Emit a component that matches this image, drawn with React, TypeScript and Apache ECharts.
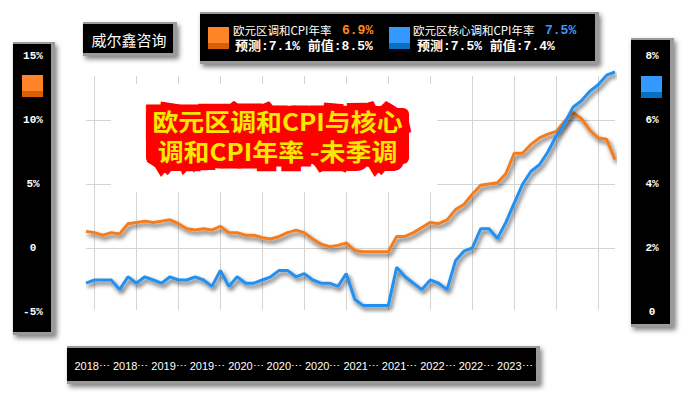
import React, { useEffect, useRef } from 'react';
import * as echarts from 'echarts';

// ---- data ----
const months = [
  '2017-12',
  '2018-01', '2018-02', '2018-03', '2018-04', '2018-05', '2018-06', '2018-07', '2018-08', '2018-09', '2018-10', '2018-11', '2018-12',
  '2019-01', '2019-02', '2019-03', '2019-04', '2019-05', '2019-06', '2019-07', '2019-08', '2019-09', '2019-10', '2019-11', '2019-12',
  '2020-01', '2020-02', '2020-03', '2020-04', '2020-05', '2020-06', '2020-07', '2020-08', '2020-09', '2020-10', '2020-11', '2020-12',
  '2021-01', '2021-02', '2021-03', '2021-04', '2021-05', '2021-06', '2021-07', '2021-08', '2021-09', '2021-10', '2021-11', '2021-12',
  '2022-01', '2022-02', '2022-03', '2022-04', '2022-05', '2022-06', '2022-07', '2022-08', '2022-09', '2022-10', '2022-11', '2022-12',
  '2023-01', '2023-02', '2023-03',
];

// 欧元区调和CPI年率 (left axis, %)
const headline = [
  1.3,
  1.2, 1.0, 1.2, 1.1, 1.9, 2.0, 2.1, 2.0, 2.1, 2.2, 1.9, 1.5,
  1.4, 1.5, 1.4, 1.7, 1.2, 1.2, 1.0, 1.0, 0.8, 0.7, 0.9, 1.2,
  1.4, 1.2, 0.7, 0.3, 0.1, 0.2, 0.4, -0.2, -0.3, -0.3, -0.3, -0.3,
  0.9, 0.9, 1.2, 1.6, 2.0, 1.9, 2.2, 3.0, 3.4, 4.2, 4.9, 5.0,
  5.1, 5.8, 7.4, 7.4, 8.1, 8.6, 8.9, 9.1, 9.9, 10.6, 10.1, 9.2,
  8.6, 8.5, 6.9,
];

// 欧元区核心调和CPI年率 (right axis, %)
const core = [
  0.9,
  1.0, 1.0, 1.0, 0.7, 1.1, 0.9, 1.1, 1.0, 0.9, 1.1, 1.0, 1.0,
  1.1, 1.0, 0.8, 1.3, 0.8, 1.1, 0.9, 0.9, 1.0, 1.1, 1.3, 1.3,
  1.1, 1.2, 1.0, 0.9, 0.9, 0.8, 1.2, 0.4, 0.2, 0.2, 0.2, 0.2,
  1.4, 1.1, 0.9, 0.7, 1.0, 0.9, 0.7, 1.6, 1.9, 2.0, 2.6, 2.6,
  2.3, 2.8, 3.4, 4.0, 4.4, 4.6, 5.0, 5.5, 5.9, 6.4, 6.6, 6.9,
  7.1, 7.4, 7.5,
];

// bottom label strip ticks
const axisLabels = [
  '2018-06', '2018-11', '2019-04', '2019-09', '2020-02', '2020-07',
  '2020-12', '2021-05', '2021-10', '2022-03', '2022-08', '2023-01',
];

const seriesNames = ['欧元区调和CPI年率', '欧元区核心调和CPI年率'];
const latestValues = ['6.9%', '7.5%'];
const forecastValues = ['7.1%', '7.5%'];
const previousValues = ['8.5%', '7.4%'];

const leftAxisRange = { min: -5, max: 15, interval: 5 };
const rightAxisRange = { min: 0, max: 8, interval: 2 };

const titleLines = ['欧元区调和CPI与核心', '调和CPI年率 -未季调'];
const brand = '威尔鑫咨询';

const ORANGE = '#f47b1c';
const BLUE = '#2090f0';
const CJK = '"Noto Sans CJK SC", "Noto Sans", sans-serif';
const MONO = '"Liberation Mono", "Noto Sans CJK SC", monospace';

function bevelBox(x: number, y: number, w: number, h: number): any[] {
  return [
    {
      type: 'rect', z: 1,
      shape: { x, y, width: w, height: h },
      style: { fill: '#9a9a9a', shadowBlur: 5, shadowOffsetX: 2, shadowOffsetY: 3, shadowColor: 'rgba(0,0,0,0.5)' },
    },
    {
      type: 'rect', z: 1,
      shape: { x, y: y + 2, width: w - 4, height: h - 5 },
      style: { fill: '#000000' },
    },
  ];
}

function swatch(x: number, y: number, top: string, bottom: string): any[] {
  return [
    { type: 'rect', z: 2, shape: { x, y, width: 21, height: 22 }, style: { fill: top } },
    { type: 'rect', z: 2, shape: { x, y: y + 16, width: 21, height: 6 }, style: { fill: bottom } },
  ];
}

const pctFmt = (v: number) => (v === 0 ? '0' : `${v}%`);

export default function App() {
  const ref = useRef<HTMLDivElement>(null);

  useEffect(() => {
    document.body.style.margin = '0';
    if (!ref.current) return;
    const chart = echarts.init(ref.current, undefined, { renderer: 'svg' });

    const graphics: any[] = [
      // title brand box
      ...bevelBox(83, 22, 94, 34),
      { type: 'text', z: 2, x: 129, y: 39, style: { text: brand, fill: '#fff', fontSize: 15, fontFamily: CJK, align: 'center', verticalAlign: 'middle' } },
      // legend box
      ...bevelBox(200, 12, 399, 52),
      ...swatch(208, 27, '#ff8428', '#d85f08'),
      { type: 'text', z: 2, x: 233, y: 30, style: { text: seriesNames[0], fill: '#fff', fontSize: 11.5, fontFamily: CJK, align: 'left', verticalAlign: 'middle' } },
      { type: 'text', z: 2, x: 342, y: 30, style: { text: latestValues[0], fill: '#ff8a1e', fontSize: 13, fontWeight: 'bold', fontFamily: MONO, align: 'left', verticalAlign: 'middle' } },
      { type: 'text', z: 2, x: 235, y: 46, style: { text: `预测:${forecastValues[0]} 前值:${previousValues[0]}`, fill: '#fff', fontSize: 13, fontWeight: 'bold', fontFamily: MONO, align: 'left', verticalAlign: 'middle' } },
      ...swatch(389, 27, '#3399ff', '#0a6fc0'),
      { type: 'text', z: 2, x: 413, y: 30, style: { text: seriesNames[1], fill: '#fff', fontSize: 11.5, fontFamily: CJK, align: 'left', verticalAlign: 'middle' } },
      { type: 'text', z: 2, x: 545, y: 30, style: { text: latestValues[1], fill: '#3a9cff', fontSize: 13, fontWeight: 'bold', fontFamily: MONO, align: 'left', verticalAlign: 'middle' } },
      { type: 'text', z: 2, x: 417, y: 46, style: { text: `预测:${forecastValues[1]} 前值:${previousValues[1]}`, fill: '#fff', fontSize: 13, fontWeight: 'bold', fontFamily: MONO, align: 'left', verticalAlign: 'middle' } },
      // left axis box
      ...bevelBox(13, 42, 42, 293),
      ...swatch(22, 75, '#ff8428', '#d85f08'),
      // right axis box
      ...bevelBox(631, 38, 43, 289),
      ...swatch(641, 76, '#3399ff', '#0a6fc0'),
      // bottom label strip
      ...bevelBox(67, 346, 473, 38),
      // white mask behind title
      { type: 'rect', z: 4, shape: { x: 111, y: 84, width: 326, height: 108 }, style: { fill: '#ffffff' } },
      // title blob
      { type: 'text', z: 10, x: 277.5, y: 120, scaleX: 1.08, style: { text: titleLines[0], fill: '#ff0000', stroke: '#ff0000', lineWidth: 15, lineJoin: 'round', fontSize: 24, fontWeight: 'bold', fontFamily: CJK, align: 'center', verticalAlign: 'middle', shadowBlur: 6, shadowOffsetX: 3, shadowOffsetY: 4, shadowColor: 'rgba(0,0,0,0.45)' } },
      { type: 'text', z: 10, x: 277.5, y: 150, scaleX: 1.08, style: { text: titleLines[1], fill: '#ff0000', stroke: '#ff0000', lineWidth: 15, lineJoin: 'round', fontSize: 24, fontWeight: 'bold', fontFamily: CJK, align: 'center', verticalAlign: 'middle', shadowBlur: 6, shadowOffsetX: 3, shadowOffsetY: 4, shadowColor: 'rgba(0,0,0,0.45)' } },
      { type: 'rect', z: 10, shape: { x: 146, y: 108, width: 263, height: 56, r: 6 }, style: { fill: '#ff0000' } },
      { type: 'text', z: 11, x: 277.5, y: 120, scaleX: 1.08, style: { text: titleLines[0], fill: '#f6e800', fontSize: 24, fontWeight: 'bold', fontFamily: CJK, align: 'center', verticalAlign: 'middle', shadowBlur: 0, shadowOffsetX: 1, shadowOffsetY: 1.5, shadowColor: '#7a5c00' } },
      { type: 'text', z: 11, x: 277.5, y: 150, scaleX: 1.08, style: { text: titleLines[1], fill: '#f6e800', fontSize: 24, fontWeight: 'bold', fontFamily: CJK, align: 'center', verticalAlign: 'middle', shadowBlur: 0, shadowOffsetX: 1, shadowOffsetY: 1.5, shadowColor: '#7a5c00' } },
    ];

    const lineShadow = { shadowColor: 'rgba(0,0,0,0.65)', shadowBlur: 4, shadowOffsetX: 2, shadowOffsetY: 3 };

    chart.setOption({
      animation: false,
      backgroundColor: '#ffffff',
      grid: [
        { left: 86, top: 56, width: 529, height: 256 },
        { left: 86, top: 76, width: 529, height: 234 },
        { left: 73, top: 357, width: 461, height: 1 },
      ],
      xAxis: [
        {
          gridIndex: 0, type: 'category', data: months, boundaryGap: false,
          axisLine: { show: false }, axisTick: { show: false }, axisLabel: { show: false }, splitLine: { show: false },
        },
        {
          gridIndex: 1, type: 'category', data: months, boundaryGap: false, z: 3,
          axisLine: { show: false }, axisTick: { show: false }, axisLabel: { show: false },
          splitLine: { show: true, interval: (i: number) => (i - 1) % 5 === 0, lineStyle: { color: '#d4d4d4', width: 1 } },
        },
        {
          gridIndex: 2, type: 'category', data: axisLabels, boundaryGap: true, z: 3,
          axisLine: { show: false }, axisTick: { show: false }, splitLine: { show: false },
          axisLabel: {
            interval: 0, color: '#ffffff', fontSize: 11, fontFamily: '"Liberation Sans", sans-serif',
            margin: 8, verticalAlign: 'middle',
            formatter: (v: string) => `${v.slice(0, 4)}⋯`,
          },
        },
      ],
      yAxis: [
        {
          gridIndex: 0, type: 'value', position: 'left', z: 3, ...leftAxisRange,
          axisLine: { show: false }, axisTick: { show: false },
          axisLabel: { color: '#ffffff', fontSize: 11, fontWeight: 'bold', fontFamily: MONO, align: 'center', margin: 53, formatter: pctFmt },
          splitLine: { show: true, showMinLine: false, showMaxLine: false, lineStyle: { color: '#d4d4d4', width: 1 } },
        },
        {
          gridIndex: 0, type: 'value', position: 'right', z: 3, ...rightAxisRange,
          axisLine: { show: false }, axisTick: { show: false },
          axisLabel: { color: '#ffffff', fontSize: 11, fontWeight: 'bold', fontFamily: MONO, align: 'center', margin: 37, formatter: pctFmt },
          splitLine: { show: false },
        },
        { gridIndex: 1, type: 'value', show: false, min: 0, max: 1 },
        { gridIndex: 2, type: 'value', show: false, min: 0, max: 1 },
      ],
      series: [
        {
          name: seriesNames[0], type: 'line', xAxisIndex: 0, yAxisIndex: 0, z: 5,
          data: headline, showSymbol: false, symbol: 'none',
          lineStyle: { color: ORANGE, width: 3, ...lineShadow },
          itemStyle: { color: ORANGE },
        },
        {
          name: seriesNames[1], type: 'line', xAxisIndex: 0, yAxisIndex: 1, z: 6,
          data: core, showSymbol: false, symbol: 'none',
          lineStyle: { color: BLUE, width: 3, ...lineShadow },
          itemStyle: { color: BLUE },
        },
      ],
      graphic: { elements: graphics },
    });

    return () => chart.dispose();
  }, []);

  return <div ref={ref} style={{ width: 683, height: 394 }} />;
}
